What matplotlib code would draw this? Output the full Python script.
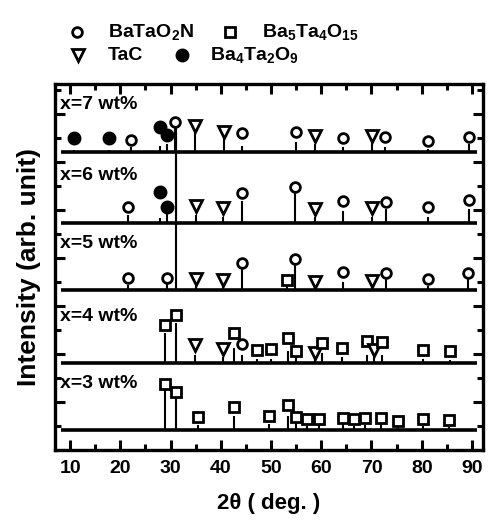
import matplotlib
matplotlib.use("Agg")
import matplotlib.pyplot as plt
from matplotlib.lines import Line2D
from matplotlib.ticker import MultipleLocator

plt.rcParams['font.family'] = ['Liberation Sans', 'DejaVu Sans']
plt.rcParams['font.weight'] = 'bold'
plt.rcParams['mathtext.fontset'] = 'custom'
plt.rcParams['mathtext.rm'] = 'Liberation Sans:bold'
plt.rcParams['mathtext.bf'] = 'Liberation Sans:bold'
plt.rcParams['mathtext.it'] = 'Liberation Sans:bold'

# sample labels and vertical offsets of each pattern (bottom to top)
samples = ['x=3 wt%', 'x=4 wt%', 'x=5 wt%', 'x=6 wt%', 'x=7 wt%']
offsets = [20, 87, 160, 227, 298]

# peaks: 2theta positions and heights (arb.)
peak_pos_3 = [28.9, 31.1, 35.5, 42.7, 49.6, 53.4, 55.0, 57.2, 59.6, 64.4, 66.6, 68.8, 71.9, 75.3, 80.3, 85.5]
peak_h_3 = [40, 33, 5, 14, 6, 14, 8, 4, 8, 6, 4, 5, 6, 3, 4, 3]
peak_pos_4 = [28.9, 31.1, 34.9, 40.5, 42.7, 44.3, 47.3, 50.0, 53.4, 55.0, 58.8, 60.2, 64.2, 69.2, 70.4, 72.1, 80.3, 85.7]
peak_h_4 = [30, 40, 8, 6, 15, 8, 4, 4, 12, 8, 5, 10, 6, 8, 6, 8, 4, 3]
peak_pos_5 = [21.6, 29.3, 31.0, 35.1, 40.5, 44.3, 53.2, 54.8, 58.8, 64.4, 70.2, 72.9, 81.3, 89.3]
peak_h_5 = [5, 6, 163, 4, 4, 22, 4, 28, 4, 8, 4, 14, 4, 12]
peak_pos_6 = [21.6, 27.9, 29.3, 31.0, 35.1, 40.5, 44.3, 54.8, 58.8, 64.4, 70.2, 72.9, 81.3, 89.5]
peak_h_6 = [8, 5, 10, 90, 8, 6, 22, 30, 6, 12, 6, 14, 6, 14]
peak_pos_7 = [10.8, 17.8, 22.2, 27.9, 29.3, 30.9, 34.9, 40.7, 44.3, 55.0, 58.8, 64.4, 70.2, 72.7, 81.3, 89.5]
peak_h_7 = [2, 2, 5, 6, 8, 24, 22, 14, 6, 10, 8, 5, 10, 5, 3, 8]

# phase markers: positions, phase code, level above baseline
# O = BaTaO2N, S = Ba5Ta4O15, T = TaC, F = Ba4Ta2O9
mk_pos_3 = peak_pos_3
mk_ph_3 = ['S'] * 16
mk_lv_3 = [46, 38, 13, 23, 14, 25, 13, 11, 11, 12, 11, 12, 12, 9, 11, 10]
mk_pos_4 = peak_pos_4
mk_ph_4 = ['S', 'S', 'T', 'T', 'S', 'O', 'S', 'S', 'S', 'S', 'T', 'S', 'S', 'S', 'T', 'S', 'S', 'S']
mk_lv_4 = [38, 48, 18, 14, 30, 19, 13, 14, 25, 12, 10, 20, 15, 22, 13, 21, 13, 12]
mk_pos_5 = [21.6, 29.3, 35.1, 40.5, 44.3, 53.2, 54.8, 58.8, 64.4, 70.2, 72.9, 81.3, 89.3]
mk_ph_5 = ['O', 'O', 'T', 'T', 'O', 'S', 'O', 'T', 'O', 'T', 'O', 'O', 'O']
mk_lv_5 = [12, 12, 11, 10, 27, 10, 31, 8, 18, 9, 17, 11, 17]
mk_pos_6 = [21.6, 27.9, 29.3, 35.1, 40.5, 44.3, 54.8, 58.8, 64.4, 70.2, 72.9, 81.3, 89.5]
mk_ph_6 = ['O', 'F', 'F', 'T', 'T', 'O', 'O', 'T', 'O', 'T', 'O', 'O', 'O']
mk_lv_6 = [16, 31, 16, 17, 15, 30, 36, 14, 22, 15, 21, 16, 23]
mk_pos_7 = peak_pos_7
mk_ph_7 = ['F', 'F', 'O', 'F', 'F', 'O', 'T', 'T', 'O', 'O', 'T', 'O', 'T', 'O', 'O', 'O']
mk_lv_7 = [14, 14, 12, 25, 17, 30, 26, 20, 19, 20, 16, 14, 16, 15, 11, 15]

peaks = [(peak_pos_3, peak_h_3), (peak_pos_4, peak_h_4), (peak_pos_5, peak_h_5),
         (peak_pos_6, peak_h_6), (peak_pos_7, peak_h_7)]
marks = [(mk_pos_3, mk_ph_3, mk_lv_3), (mk_pos_4, mk_ph_4, mk_lv_4), (mk_pos_5, mk_ph_5, mk_lv_5),
         (mk_pos_6, mk_ph_6, mk_lv_6), (mk_pos_7, mk_ph_7, mk_lv_7)]

styles = {
    'O': dict(marker='o', mfc='white', ms=7),
    'S': dict(marker='s', mfc='white', ms=6.5),
    'T': dict(marker='v', mfc='white', ms=8),
    'F': dict(marker='o', mfc='black', ms=8),
}
phase_names = {
    'O': r'$\mathrm{BaTaO_2N}$',
    'S': r'$\mathrm{Ba_5Ta_4O_{15}}$',
    'T': 'TaC',
    'F': r'$\mathrm{Ba_4Ta_2O_9}$',
}

fig = plt.figure(figsize=(4.88, 5.22), dpi=100)
ax = fig.add_axes([0.1127, 0.1379, 0.8771, 0.7012])

x_lo, x_hi = 7.0, 92.2
for (pp, ph), (mp, mph, mlv), off, lab in zip(peaks, marks, offsets, samples):
    ax.plot([x_lo + 1.2, x_hi - 1.2], [off, off], color='black', lw=2.6, solid_capstyle='butt')
    ax.vlines(pp, off, [off + h for h in ph], color='black', lw=1.5)
    for x, p, lv in zip(mp, mph, mlv):
        ax.plot([x], [off + lv], color='black', mec='black', mew=2.0, ls='none', **styles[p])
    ax.text(8.0, off + 47, lab, fontsize=14, fontweight='bold', va='center', ha='left')

ax.set_xlim(x_lo, x_hi)
ax.set_ylim(0, 366)
ax.xaxis.set_major_locator(MultipleLocator(10))
ax.xaxis.set_minor_locator(MultipleLocator(5))
ax.yaxis.set_major_locator(MultipleLocator(48))
ax.yaxis.set_minor_locator(MultipleLocator(24))
ax.tick_params(which='both', direction='in', top=True, right=True, width=2.2,
               labelleft=False, labelsize=14, pad=7)
ax.tick_params(which='major', length=7)
ax.tick_params(which='minor', length=4)
for s in ax.spines.values():
    s.set_linewidth(2.4)
for t in ax.get_xticklabels():
    t.set_fontweight('bold')

ax.set_xlabel('2θ ( deg. )', fontsize=16, fontweight='bold', labelpad=12)
ax.set_ylabel('Intensity (arb. unit)', fontsize=19, fontweight='bold', labelpad=10)

# legend drawn in figure coordinates
leg_items = [('O', 77, 32, 108), ('S', 230, 32, 262), ('T', 78, 55, 108), ('F', 182, 55, 210)]
for p, mx, my, tx in leg_items:
    fy = 1 - my / 522
    fig.add_artist(Line2D([mx / 488], [fy], transform=fig.transFigure, color='black',
                          mec='black', mew=2.0, ls='none', **styles[p]))
    fig.text(tx / 488, fy, phase_names[p], fontsize=14, fontweight='bold', va='center', ha='left')

fig.savefig('out.png', dpi=100)
